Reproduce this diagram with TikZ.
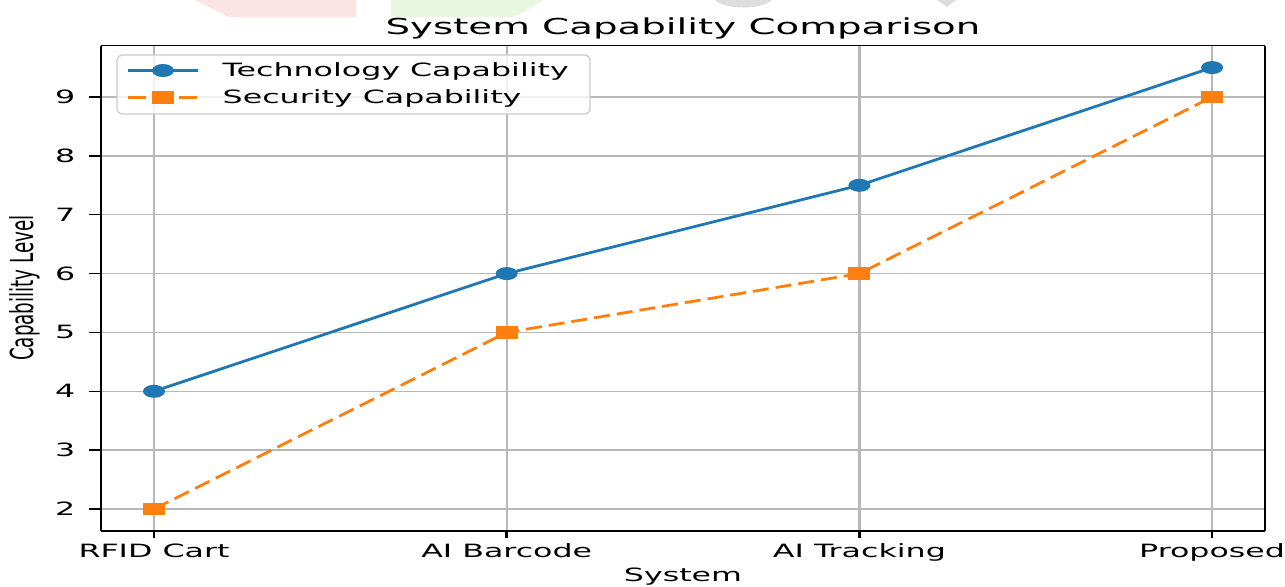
\documentclass[tikz,border=0pt]{standalone}
\usepackage{fontspec}
\setmainfont{DejaVu Sans}
\usetikzlibrary{shapes.geometric}
\definecolor{techblue}{HTML}{1F77B4}
\definecolor{secorange}{HTML}{FF7F0E}
\definecolor{gridgray}{HTML}{B8B8B8}
\definecolor{legendedge}{HTML}{CCCCCC}
\definecolor{markpink}{HTML}{FDE4E4}
\definecolor{markgreen}{HTML}{EAF7E0}
\definecolor{markgray}{HTML}{DDDDDD}

\begin{document}
\begin{tikzpicture}[x=0.5pt, y=-0.5pt,
  lbl/.style={inner sep=0pt, xscale=1.73, font=\fontsize{9.15}{11}\selectfont},
  ttl/.style={inner sep=0pt, xscale=1.76, font=\fontsize{11}{13}\selectfont},
  hgrid/.style={draw=gridgray, line width=0.75pt},
  vgrid/.style={draw=gridgray, line width=1.2pt},
  techline/.style={draw=techblue, line width=1.4pt},
  secline/.style={draw=secorange, line width=1.4pt, dash pattern=on 8pt off 3.5pt},
  techmark/.style={ellipse, fill=techblue, inner sep=0pt, minimum width=11pt, minimum height=6.5pt},
  secmark/.style={rectangle, fill=secorange, inner sep=0pt, minimum width=11pt, minimum height=6.2pt},
  hspine/.style={draw=black, line width=0.75pt},
  vspine/.style={draw=black, line width=1.25pt}]

% canvas
\fill[white] (0,0) rectangle (1285,586);
\useasboundingbox (0,0) rectangle (1285,586);

% faint marks along the top edge
\fill[markpink] (195,0) -- (356,0) -- (356,17) -- (229,17) -- cycle;
\fill[markgreen] (391,0) -- (544,0) -- (514,17) -- (391,17) -- cycle;
\fill[markgray] (715,0) .. controls (725,10) and (762,10) .. (772,0) -- cycle;
\fill[markgray] (937,0) -- (956,0) -- (947,7) -- cycle;

% grid
\foreach \v/\yy in {2/509,3/450.14,4/391.29,5/332.43,6/273.57,7/214.71,8/155.86,9/97}
  \draw[hgrid] (101,\yy) -- (1265,\yy);
\foreach \xx in {154,506.7,859.4,1212.1}
  \draw[vgrid] (\xx,45.5) -- (\xx,531.1);

% frame
\draw[hspine] (101,45.5) -- (1265,45.5);
\draw[hspine] (101,531.1) -- (1265,531.1);
\draw[vspine] (101,45.5) -- (101,531.1);
\draw[vspine] (1265,45.5) -- (1265,531.1);

% y ticks and labels
\foreach \v/\yy in {2/509,3/450.14,4/391.29,5/332.43,6/273.57,7/214.71,8/155.86,9/97}{
  \draw[hspine] (89,\yy) -- (101,\yy);
  \node[lbl, anchor=east] (ytick\v) at (76,\yy) {\v};
}

% x ticks and labels
\foreach \i/\xx/\name in {0/154/RFID Cart,1/506.7/AI Barcode,2/859.4/AI Tracking,3/1212.1/Proposed}{
  \draw[vspine] (\xx,531.1) -- (\xx,538);
  \node[lbl, anchor=base] (xtick\i) at (\xx,557) {\name};
}

% titles
\node[ttl, anchor=base] (title) at (683,34) {System Capability Comparison};
\node[lbl, anchor=base] (xlabel) at (683,581) {System};
\node[inner sep=0pt, rotate=90, yscale=1.73, anchor=base, font=\fontsize{9.15}{11}\selectfont] (ylabel) at (33,288) {Capability Level};

% data points
\coordinate (t0) at (154,391.29);
\coordinate (t1) at (506.7,273.57);
\coordinate (t2) at (859.4,185.29);
\coordinate (t3) at (1212.1,67.57);
\coordinate (s0) at (154,509);
\coordinate (s1) at (506.7,332.43);
\coordinate (s2) at (859.4,273.57);
\coordinate (s3) at (1212.1,97);

% series
\draw[techline] (t0) -- (t1) -- (t2) -- (t3);
\draw[secline] (s0) -- (s1) -- (s2) -- (s3);
\foreach \k in {0,1,2,3}{
  \node[techmark] (tm\k) at (t\k) {};
  \node[secmark] (sm\k) at (s\k) {};
}

% legend
\draw[legendedge, line width=0.6pt, fill=white, fill opacity=0.8, rounded corners=2.5pt] (117,55) rectangle (590,114);
\coordinate (lta) at (128,70.5);
\coordinate (ltb) at (198,70.5);
\coordinate (lsa) at (128,97.5);
\coordinate (lsb) at (198,97.5);
\draw[techline] (lta) -- (ltb);
\node[techmark] (ltm) at (163,70.5) {};
\draw[secline, dash pattern=on 9pt off 3.8pt] (lsa) -- (lsb);
\node[secmark] (lsm) at (163,97.5) {};
\node[lbl, anchor=base west] (ltech) at (222,76.5) {Technology Capability};
\node[lbl, anchor=base west] (lsec) at (222,103.5) {Security Capability};
\end{tikzpicture}
\end{document}
